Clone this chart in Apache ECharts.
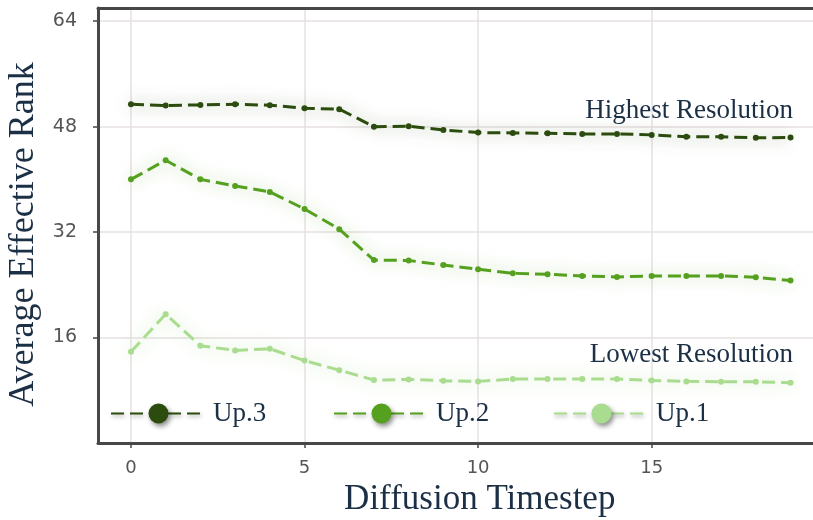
<!DOCTYPE html>
<html>
<head>
<meta charset="utf-8">
<script src="https://cdn.jsdelivr.net/npm/echarts@6/dist/echarts.min.js"></script>
<style>
html,body{margin:0;padding:0;background:#fff;}
#chart{width:813px;height:520px;}
</style>
</head>
<body>
<div id="chart"></div>
<script>
var steps = [0,1,2,3,4,5,6,7,8,9,10,11,12,13,14,15,16,17,18,19];
var up3 = [51.4,51.2,51.3,51.4,51.25,50.8,50.65,48.0,48.05,47.5,47.1,47.05,47.0,46.9,46.9,46.75,46.45,46.45,46.3,46.35];
var up2 = [40.0,42.9,40.0,39.0,38.1,35.5,32.45,27.75,27.7,27.0,26.35,25.75,25.6,25.35,25.2,25.35,25.35,25.35,25.15,24.65];
var up1 = [13.85,19.55,14.75,14.05,14.3,12.5,11.05,9.55,9.65,9.45,9.35,9.7,9.7,9.7,9.7,9.5,9.35,9.3,9.3,9.15];
var xTicks = [0,5,10,15];
var yTicks = [16,32,48,64];
var seriesNames = ['Up.3','Up.2','Up.1'];
var colors = ['#2b4c0e','#55a11f','#a9dc8e'];
var glows = ['rgba(43,76,14,0.55)','rgba(85,161,31,0.6)','rgba(169,220,142,0.85)'];
var labelHigh = 'Highest Resolution';
var labelLow = 'Lowest Resolution';

function pairs(vals){ return steps.map(function(s,i){return [s, vals[i]];}); }
var allVals = [up3, up2, up1];

var navy = '#1b2f45';
var serif = '"Liberation Serif", "Times New Roman", serif';
var spine = '#474747';

var chart = echarts.init(document.getElementById('chart'), null, {renderer:'canvas'});

var series = seriesNames.map(function(n, i){
  return {
    name: n,
    type: 'line',
    data: pairs(allVals[i]),
    symbol: 'circle',
    symbolSize: 6,
    showSymbol: true,
    z: 3 + (2 - i),
    itemStyle: {color: colors[i]},
    lineStyle: {color: colors[i], width: 3, type: [13, 6], shadowBlur: 16, shadowColor: glows[i]},
    emphasis: {disabled: true},
    animation: false
  };
});

function mkLegend(name, left){
  return {
    data: [name], left: left, top: 400, padding: 0,
    itemWidth: 95, itemHeight: 25,
    itemStyle: {shadowBlur: 5, shadowColor: 'rgba(0,0,0,0.45)', shadowOffsetX: 2, shadowOffsetY: 3},
    lineStyle: {shadowBlur: 4, shadowColor: 'rgba(0,0,0,0.35)', shadowOffsetX: 1, shadowOffsetY: 2},
    textStyle: {fontFamily: serif, fontSize: 27, color: navy, padding: [0,0,0,2]},
    selectedMode: false
  };
}

var option = {
  backgroundColor: '#ffffff',
  animation: false,
  grid: {left: 98, top: 8, right: -10.5, bottom: 77, outerBoundsMode: 'none', containLabel: false},
  xAxis: [{
    type: 'value', min: -0.95, max: 19.95,
    name: 'Diffusion Timestep', nameLocation: 'middle', nameGap: 36,
    nameTextStyle: {fontFamily: serif, fontSize: 35, color: navy, padding: [0,0,0,38]},
    axisLine: {show: true, onZero: false, lineStyle: {color: spine, width: 3}},
    axisTick: {show: true, length: 5, customValues: xTicks, lineStyle: {color: spine, width: 1.5}},
    axisLabel: {customValues: xTicks, margin: 16, fontFamily: 'DejaVu Sans', fontSize: 18, color: '#555'},
    splitLine: {show: true, lineStyle: {color: '#e7e1e3', width: 1.5}}
  },{
    type: 'value', position: 'top', min: -0.95, max: 19.95,
    axisLine: {show: true, onZero: false, lineStyle: {color: spine, width: 3}},
    axisTick: {show: false}, axisLabel: {show: false}, splitLine: {show: false}
  }],
  yAxis: {
    type: 'value', min: 0, max: 66,
    name: 'Average Effective Rank', nameLocation: 'middle', nameGap: 42,
    nameTextStyle: {fontFamily: serif, fontSize: 36, color: navy, padding: [0,18,0,0]},
    axisLine: {show: true, onZero: false, lineStyle: {color: spine, width: 3}},
    axisTick: {show: true, length: 5, customValues: yTicks, lineStyle: {color: spine, width: 1.5}},
    axisLabel: {customValues: yTicks, margin: 21, fontFamily: 'DejaVu Sans', fontSize: 19, color: '#555'},
    splitLine: {show: true, lineStyle: {color: '#e7e1e3', width: 1.5}}
  },
  legend: [mkLegend('Up.3', 110), mkLegend('Up.2', 333), mkLegend('Up.1', 553)],
  graphic: [
    {type: 'text', right: 20, top: 97, style: {text: labelHigh, fontFamily: serif, fontSize: 27, fill: navy}, z: 10},
    {type: 'text', right: 20, top: 341, style: {text: labelLow, fontFamily: serif, fontSize: 27, fill: navy}, z: 10}
  ],
  series: series
};
chart.setOption(option);
</script>
</body>
</html>
